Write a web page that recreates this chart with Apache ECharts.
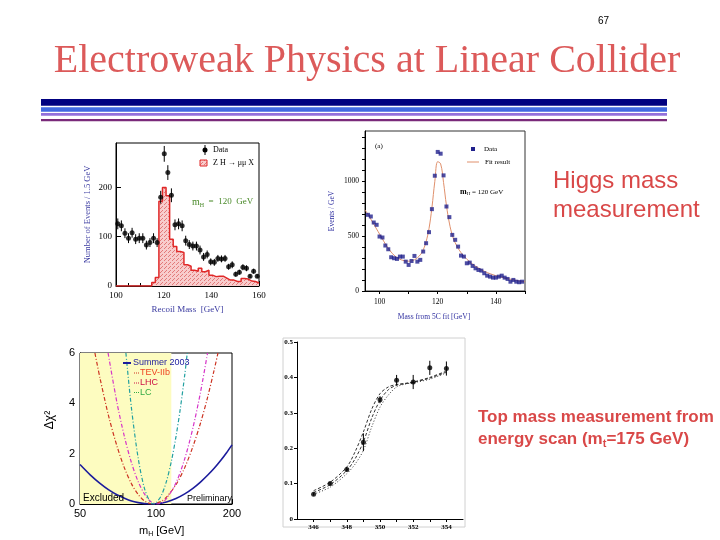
<!DOCTYPE html>
<html><head><meta charset="utf-8">
<script src="https://cdn.jsdelivr.net/npm/echarts@6/dist/echarts.min.js"></script>
<style>html,body{margin:0;padding:0;background:#fff}#c{width:720px;height:540px}</style>
</head><body><div id="c"></div>
<script>
// ---------- Plot 1: recoil mass (ZH -> mu mu X) ----------
const recoilCenters = [100.75,102.25,103.75,105.25,106.75,108.25,109.75,111.25,112.75,114.25,115.75,117.25,118.75,120.25,121.75,123.25,124.75,126.25,127.75,129.25,130.75,132.25,133.75,135.25,136.75,138.25,139.75,141.25,142.75,144.25,145.75,147.25,148.75,150.25,151.75,153.25,154.75,156.25,157.75,159.25];
const recoilData = [126,122,107,97,108,95,97,97,83,88,97,88,180,268,230,184,124,126,122,92,84,81,81,73,59,64,49,48,56,55,56,39,43,24,28,38,36,20,30,20];
const recoilErr = [11,11,10,10,10,10,10,10,9,9,10,9,13,16,15,14,11,11,11,10,9,9,9,9,8,8,7,7,7,7,7,6,7,5,5,6,6,4,5,4];
const signalEdges = [100,101.5,103,104.5,106,107.5,109,110.5,112,113.5,115,116.5,118,119.5,121,122.5,124,125.5,127,128.5,130,131.5,133,134.5,136,137.5,139,140.5,142,143.5,145,146.5,148,149.5,151,152.5,154,155.5,157,158.5,160];
const signalValues = [0,0,0,0,0,0,0,0,0,0,7,17,172,200,183,95,80,70,68,43,40,32,30,36,29,32,22,19,20,20,16,12,12,9,9,15,14,10,9,6];

// ---------- Plot 2: mass from 5C fit ----------
const fitMass = [96,97,98,99,100,101,102,103,104,105,106,107,108,109,110,111,112,113,114,115,116,117,118,119,120,121,122,123,124,125,126,127,128,129,130,131,132,133,134,135,136,137,138,139,140,141,142,143,144,145,146,147,148,149];
const fitEvents = [695,680,625,604,497,488,415,381,308,299,293,314,314,268,238,274,320,268,284,360,436,537,747,1052,1269,1253,1055,771,674,512,467,405,323,314,253,259,229,207,192,186,162,140,131,122,122,131,140,122,110,85,101,85,80,85];
const fitCurveX = [95,96,98,100,102,104,106,108,110,112,114,115,116,117,118,119,120,121,122,123,124,125,126,128,130,132,134,136,138,140,142,145,148,150];
const fitCurveY = [740,700,610,520,430,355,305,280,272,285,330,375,450,570,760,1000,1180,1160,990,780,620,510,440,350,290,245,210,180,158,140,125,108,92,85];

// ---------- Plot 3: delta chi2 vs mH ----------
const summerX = [50,55,60,65,70,75,80,85,90,96,100,105,110,120,130,140,150,160,170,180,190,200];
const summerY = [1.57,1.15,0.82,0.56,0.37,0.23,0.12,0.055,0.015,0,0.007,0.035,0.08,0.22,0.40,0.62,0.87,1.14,1.42,1.72,2.03,2.35];
const tevX = [57.3,60,65,70,75,80,85,90,97,105,110,120,130,140,150,160,170,176];
const tevY = [6,5.0,3.47,2.31,1.43,0.80,0.38,0.12,0,0.11,0.27,0.77,1.45,2.28,3.21,4.23,5.33,6];
const lhcX = [64.6,70,75,80,85,90,95,101,105,110,120,130,140,150,160];
const lhcY = [6,4.04,2.67,1.63,0.89,0.40,0.11,0,0.04,0.21,0.84,1.80,3.02,4.43,6];
const lcX = [76,80,85,90,95,97.5,100,105,110,115,120,125,130,133];
const lcY = [6,3.78,1.82,0.62,0.065,0,0.04,0.34,0.90,1.69,2.68,3.83,5.14,6];
const excludedRange = [50,115];
const chiLabels = [50,100,200];

// ---------- Plot 4: top threshold scan ----------
const scanE = [346,347,348,349,350,351,352,353,354];
const scanXs = [0.07,0.10,0.14,0.217,0.337,0.392,0.387,0.427,0.425];
const scanErr = [0.004,0.005,0.006,0.025,0.01,0.015,0.02,0.02,0.02];
const curveE = [346,347,348,348.5,349,349.5,350,350.5,351,351.5,352,353,354];
const curveMid = [0.075,0.097,0.137,0.17,0.218,0.285,0.335,0.365,0.378,0.382,0.386,0.398,0.415];
const curveUp = [0.08,0.104,0.147,0.19,0.246,0.31,0.354,0.373,0.38,0.383,0.387,0.4,0.418];
const curveLow = [0.07,0.09,0.128,0.155,0.194,0.26,0.316,0.35,0.373,0.381,0.385,0.395,0.413];

// ---------- helpers ----------
const SERIF = '"Liberation Serif", "Times New Roman", serif';
const SANS = '"Liberation Sans", Arial, sans-serif';
const RED = '#d94848';
const mctx = document.createElement('canvas').getContext('2d');
function tw(text, font){ mctx.font = font; return mctx.measureText(text).width; }
const graphics = [];
function T(x, y, text, font, fill, extra){
  graphics.push({type:'text', x:x, y:y, silent:true, z:50,
    style:Object.assign({text:text, font:font, fill:fill, align:'left', verticalAlign:'middle'}, extra||{})});
}
function parts(x, y, list, fill){
  let cx = x;
  list.forEach(p => { T(cx, y + (p[2]||0), p[0], p[1], fill); cx += tw(p[0], p[1]); });
}
function L(x1,y1,x2,y2,stroke,w,dash){
  graphics.push({type:'line', silent:true, z:50, shape:{x1,y1,x2,y2}, style:{stroke, lineWidth:w||1, lineDash:dash||null}});
}

// hatch pattern
const pc = document.createElement('canvas'); pc.width = 4; pc.height = 4;
const pg = pc.getContext('2d');
pg.fillStyle = '#f8cccc'; pg.fillRect(0,0,4,4);
pg.fillStyle = '#e27a7a'; pg.fillRect(0,0,1,1); pg.fillRect(2,2,1,1); pg.fillRect(1,3,1,1);
const hatch = {image: pc, repeat: 'repeat'};

function errBars(ai, xs, ys, es, color, w){
  return {type:'custom', xAxisIndex:ai, yAxisIndex:ai, silent:true, z:3,
    data: xs.map((x,i)=>[x, ys[i], es[i]]), encode:{x:0, y:1},
    renderItem: function(params, api){
      const x = api.value(0), y = api.value(1), e = api.value(2);
      const a = api.coord([x, y-e]), b = api.coord([x, y+e]);
      return {type:'line', shape:{x1:a[0], y1:a[1], x2:b[0], y2:b[1]}, style:{stroke:color, lineWidth:w}};
    }};
}

// ---------- static slide decorations ----------
T(598, 21, '67', '10px ' + SANS, '#000');
T(367, 61, 'Electroweak Physics at Linear Collider', '40px ' + SERIF, '#dc5a5a', {align:'center'});
graphics.push({type:'rect', silent:true, shape:{x:41, y:99, width:626, height:6.7}, style:{fill:'#000080'}});
graphics.push({type:'rect', silent:true, shape:{x:41, y:107.3, width:626, height:4.4}, style:{fill:'#4169e1'}});
graphics.push({type:'rect', silent:true, shape:{x:41, y:113, width:626, height:2.7}, style:{fill:'#9370db'}});
graphics.push({type:'rect', silent:true, shape:{x:41, y:119, width:626, height:2.2}, style:{fill:'#7a2a7a'}});
T(553, 181, 'Higgs mass', '24px ' + SANS, RED);
T(553, 210, 'measurement', '24px ' + SANS, RED);
T(478, 417, 'Top mass measurement from', 'bold 17px ' + SANS, RED);
parts(478, 439, [['energy scan (m', 'bold 17px ' + SANS, 0], ['t', 'bold 11px ' + SANS, 5], ['=175 GeV)', 'bold 17px ' + SANS, 0]], RED);

// plot 1 annotations
graphics.push({type:'circle', silent:true, z:50, shape:{cx:205, cy:150, r:2.5}, style:{fill:'#000'}});
L(205,145,205,155,'#000',1);
T(213, 150, 'Data', '8px ' + SERIF, '#000');
graphics.push({type:'rect', silent:true, z:50, shape:{x:200, y:160, width:7, height:6}, style:{fill:hatch, stroke:'#e02828', lineWidth:1}});
T(213, 163, 'Z H \u2192 \u03bc\u03bc X', '8px ' + SERIF, '#000');
parts(192, 202, [['m', '10px ' + SERIF, 0], ['H', '6px ' + SERIF, 3], ['  =  120  GeV', '9px ' + SERIF, 0]], '#4a8a2a');

// plot 2 annotations
T(375, 146, '(a)', '7px ' + SERIF, '#000');
graphics.push({type:'rect', silent:true, z:50, shape:{x:471, y:147, width:4, height:4}, style:{fill:'#20208c'}});
T(484, 149, 'Data', '7px ' + SERIF, '#000');
L(467,162,479,162,'#e0906c',1);
T(485, 162, 'Fit result', '7px ' + SERIF, '#000');
parts(460, 192, [['m', 'bold 8px ' + SERIF, 0], ['H', '5px ' + SERIF, 2], [' = 120 GeV', '7px ' + SERIF, 0]], '#000');

// plot 3 annotations
L(123,363,131,363,'#1c1c9c',2);
T(133, 363, 'Summer 2003', '9px ' + SANS, '#1c1c9c');
L(134,373,139,373,'#cc3322',1,[1,1]);
T(140, 373, 'TEV-IIb', '9px ' + SANS, '#ee4422');
L(134,383,139,383,'#cc1144',1,[1,1]);
T(140, 383, 'LHC', '9px ' + SANS, '#cc1144');
L(134,392.5,139,392.5,'#33aa44',1,[1,1]);
T(140, 392.5, 'LC', '9px ' + SANS, '#33aa44');
T(83, 498, 'Excluded', '10px ' + SANS, '#000');
T(187, 499, 'Preliminary', '9px ' + SANS, '#000');
graphics.push({type:'text', x:50, y:420, rotation:Math.PI/2, silent:true, style:{text:'\u0394\u03c7\u00b2', font:'12px ' + SANS, fill:'#000', align:'center', verticalAlign:'middle'}});
parts(139, 531, [['m', '11px ' + SANS, 0], ['H', '7px ' + SANS, 3], [' [GeV]', '11px ' + SANS, 0]], '#000');

// plot 4 frame
graphics.push({type:'rect', silent:true, z:0, shape:{x:283, y:338, width:182, height:189}, style:{fill:'none', stroke:'#d0d0d0', lineWidth:1}});

// ---------- axes ----------
const plain = v => String(v);
function baseAxis(o){
  return Object.assign({type:'value', splitLine:{show:false},
    axisLine:{show:true, lineStyle:{color:'#000', width:1}},
    axisTick:{show:true, inside:true, length:4, lineStyle:{color:'#000'}}}, o);
}
const xAxes = [
  baseAxis({gridIndex:0, min:100, max:160, interval:20,
    axisTick:{show:true, inside:true, length:5, lineStyle:{color:'#000'}},
    minorTick:{show:true, splitNumber:4, length:3, lineStyle:{color:'#000'}},
    axisLabel:{fontFamily:SERIF, fontSize:9, color:'#000', margin:5, formatter:plain},
    name:'Recoil Mass  [GeV]', nameLocation:'middle', nameGap:19,
    nameTextStyle:{fontFamily:SERIF, fontSize:9, color:'#3a3aa0'}}),
  baseAxis({gridIndex:1, min:95, max:150,
    axisTick:{show:true, inside:false, length:3, customValues:[100,110,120,130,140,150], lineStyle:{color:'#000'}},
    axisLabel:{fontFamily:SERIF, fontSize:7.5, color:'#000', margin:7, customValues:[100,120,140], formatter:plain},
    name:'Mass from 5C fit [GeV]', nameLocation:'middle', nameGap:22,
    nameTextStyle:{fontFamily:SERIF, fontSize:7.5, color:'#3030a0', padding:[0,22,0,0]}}),
  baseAxis({gridIndex:2, type:'log', logBase:10, min:50, max:200,
    axisTick:{show:true, inside:true, length:5, customValues:chiLabels, lineStyle:{color:'#000'}},
    axisLabel:{fontFamily:SANS, fontSize:11, color:'#000', margin:4, customValues:chiLabels, formatter:plain}}),
  baseAxis({gridIndex:3, min:345, max:355,
    axisTick:{show:true, inside:false, length:3, customValues:[346,347,348,349,350,351,352,353,354], lineStyle:{color:'#000'}},
    axisLabel:{fontFamily:SERIF, fontSize:7, fontWeight:'bold', color:'#000', margin:5, customValues:[346,348,350,352,354], formatter:plain}})
];
const yAxes = [
  baseAxis({gridIndex:0, min:0, max:290,
    axisTick:{show:true, inside:true, length:5, customValues:[0,100,200], lineStyle:{color:'#000'}},
    axisLabel:{fontFamily:SERIF, fontSize:9, color:'#000', margin:4, customValues:[0,100,200], formatter:plain},
    name:'Number of Events / 1.5 GeV', nameLocation:'middle', nameGap:24,
    nameTextStyle:{fontFamily:SERIF, fontSize:8.5, color:'#3a3aa0'}}),
  baseAxis({gridIndex:1, min:0, max:1460,
    axisTick:{show:true, inside:false, length:3, customValues:[0,100,200,300,400,500,600,700,800,900,1000,1100,1200,1300,1400], lineStyle:{color:'#000'}},
    axisLabel:{fontFamily:SERIF, fontSize:7.5, color:'#000', margin:6, customValues:[0,500,1000], formatter:plain},
    name:'Events / GeV', nameLocation:'middle', nameGap:29,
    nameTextStyle:{fontFamily:SERIF, fontSize:7.5, color:'#3030a0'}}),
  baseAxis({gridIndex:2, min:0, max:6, interval:2,
    axisTick:{show:true, inside:true, length:5, lineStyle:{color:'#000'}},
    axisLabel:{fontFamily:SANS, fontSize:11, color:'#000', margin:5, formatter:plain}}),
  baseAxis({gridIndex:3, min:0, max:0.5, interval:0.1,
    axisTick:{show:true, inside:false, length:3, lineStyle:{color:'#000'}},
    axisLabel:{fontFamily:SERIF, fontSize:7, fontWeight:'bold', color:'#000', margin:4,
      formatter: v => v === 0 ? '0' : v.toFixed(1)}})
];

// ---------- series ----------
const series = [
  {type:'line', xAxisIndex:0, yAxisIndex:0, step:'end', symbol:'none', z:1,
    data: signalEdges.map((e,i)=>[e, signalValues[Math.min(i, signalValues.length-1)]]),
    lineStyle:{color:'#e02828', width:1.5}, areaStyle:{color:hatch, opacity:1}},
  errBars(0, recoilCenters, recoilData, recoilErr, '#000', 1),
  {type:'scatter', xAxisIndex:0, yAxisIndex:0, symbol:'circle', symbolSize:5, z:4,
    itemStyle:{color:'#000'}, data: recoilCenters.map((x,i)=>[x, recoilData[i]])},

  {type:'line', xAxisIndex:1, yAxisIndex:1, smooth:0.4, symbol:'none', z:2,
    lineStyle:{color:'#e0906c', width:1}, data: fitCurveX.map((x,i)=>[x, fitCurveY[i]])},
  {type:'scatter', xAxisIndex:1, yAxisIndex:1, symbol:'rect', symbolSize:4, z:4,
    itemStyle:{color:'#20208c'}, data: fitMass.map((x,i)=>[x, fitEvents[i]])},

  {type:'line', xAxisIndex:2, yAxisIndex:2, smooth:0.3, symbol:'none', z:3,
    lineStyle:{color:'#1c1c9c', width:1.6}, data: summerX.map((x,i)=>[x, summerY[i]]),
    markArea:{silent:true, itemStyle:{color:'#fdfcc0'}, data:[[{xAxis:excludedRange[0]},{xAxis:excludedRange[1]}]]}},
  {type:'line', xAxisIndex:2, yAxisIndex:2, smooth:0.3, symbol:'none', z:3,
    lineStyle:{color:'#cc3322', width:1.2, type:[4,2,1,2]}, data: tevX.map((x,i)=>[x, tevY[i]])},
  {type:'line', xAxisIndex:2, yAxisIndex:2, smooth:0.3, symbol:'none', z:3,
    lineStyle:{color:'#d633c8', width:1.2, type:[4,2,1,2]}, data: lhcX.map((x,i)=>[x, lhcY[i]])},
  {type:'line', xAxisIndex:2, yAxisIndex:2, smooth:0.3, symbol:'none', z:3,
    lineStyle:{color:'#22a0a0', width:1.2, type:[4,2,1,2]}, data: lcX.map((x,i)=>[x, lcY[i]])},

  {type:'line', xAxisIndex:3, yAxisIndex:3, smooth:0.3, symbol:'none', z:2,
    lineStyle:{color:'#333', width:1, type:[3,2]}, data: curveE.map((x,i)=>[x, curveUp[i]])},
  {type:'line', xAxisIndex:3, yAxisIndex:3, smooth:0.3, symbol:'none', z:2,
    lineStyle:{color:'#333', width:1, type:[3,2]}, data: curveE.map((x,i)=>[x, curveMid[i]])},
  {type:'line', xAxisIndex:3, yAxisIndex:3, smooth:0.3, symbol:'none', z:2,
    lineStyle:{color:'#333', width:1, type:[1,2]}, data: curveE.map((x,i)=>[x, curveLow[i]])},
  errBars(3, scanE, scanXs, scanErr, '#000', 1),
  {type:'scatter', xAxisIndex:3, yAxisIndex:3, symbol:'circle', symbolSize:5, z:4,
    itemStyle:{color:'#000'}, data: scanE.map((x,i)=>[x, scanXs[i]])}
];

const chart = echarts.init(document.getElementById('c'), null, {renderer:'canvas', width:720, height:540});
chart.setOption({
  animation:false,
  backgroundColor:'#ffffff',
  grid:[
    {left:116, top:143, width:143, height:143, show:true, borderColor:'#000', borderWidth:1, backgroundColor:'transparent'},
    {left:365, top:131, width:160, height:160, show:true, borderColor:'#333', borderWidth:1, backgroundColor:'transparent'},
    {left:80, top:353, width:152, height:151, show:true, borderColor:'#000', borderWidth:1, backgroundColor:'transparent'},
    {left:297, top:342, width:166, height:177}
  ],
  xAxis:xAxes, yAxis:yAxes, series:series, graphic:graphics
});
</script></body></html>
